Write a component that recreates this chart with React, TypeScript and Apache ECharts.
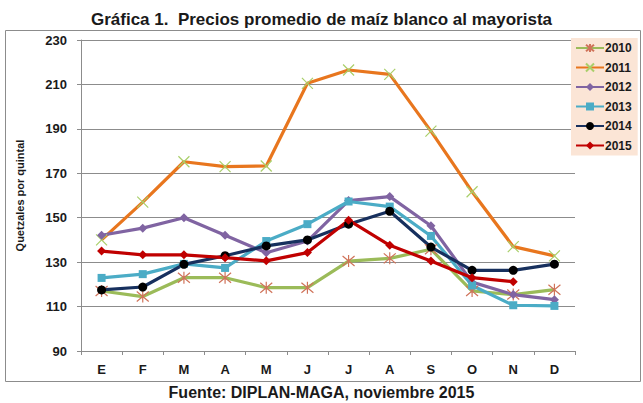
import React, { useEffect, useRef } from 'react';
import * as echarts from 'echarts';

const months = ['E', 'F', 'M', 'A', 'M', 'J', 'J', 'A', 'S', 'O', 'N', 'D'];

const precios2010 = [117, 114.5, 123, 123, 118.5, 118.5, 130.5, 131.7, 135.8, 117, 115.4, 117.6];
const precios2011 = [140, 157, 175.2, 173, 173.3, 210.5, 216.5, 214.5, 189, 161.7, 137, 132.8];
const precios2012 = [142.1, 145.3, 150, 142.1, 134.2, 139.5, 157.7, 159.5, 146.4, 121, 115.4, 113.1];
const precios2013 = [122.9, 124.6, 129.2, 127.4, 139.5, 147.1, 157.3, 155, 141.8, 119.5, 110.6, 110.3];
const precios2014 = [117.5, 118.8, 129, 132.9, 137.3, 140, 147.1, 152.9, 136.8, 126.3, 126.3, 129.1];
const precios2015 = [135, 133.3, 133.3, 132, 130.6, 134.3, 148.9, 137.6, 130.5, 123, 121.2, null];

const FONT = '"Liberation Sans", Arial, sans-serif';

const ASTERISK = 'path://M0,0L10,10M10,0L0,10M5,-1L5,11';
const CROSS = 'path://M0,0L10,10M10,0L0,10';

const App: React.FC = () => {
  const chartRef = useRef<HTMLDivElement>(null);

  useEffect(() => {
    if (!chartRef.current) return;
    const chart = echarts.init(chartRef.current, undefined, { renderer: 'svg' });

    const line = (
      name: string,
      data: (number | null)[],
      color: string,
      symbol: string,
      symbolSize: number,
      markerColor: string,
      strokeMarker = false
    ) => ({
      name,
      type: 'line',
      data,
      symbol,
      symbolSize,
      showSymbol: true,
      lineStyle: { color, width: 3.2 },
      itemStyle: strokeMarker
        ? { color: 'transparent', borderColor: markerColor, borderWidth: 1.2 }
        : { color: markerColor },
      color,
    });

    const option: echarts.EChartsOption = {
      animation: false,
      backgroundColor: '#ffffff',
      title: {
        text: 'Gráfica 1.  Precios promedio de maíz blanco al mayorista',
        left: 'center',
        top: 6,
        textStyle: { fontFamily: FONT, fontSize: 17, fontWeight: 'bold', color: '#1a1a1a' },
      },
      graphic: [
        {
          type: 'rect',
          shape: { x: 5.5, y: 30.5, width: 635, height: 351 },
          style: { fill: 'none', stroke: '#8c8c8c', lineWidth: 1 },
          silent: true,
        },
        {
          type: 'text',
          left: 'center',
          top: 384,
          style: {
            text: 'Fuente: DIPLAN-MAGA, noviembre 2015',
            font: `bold 16px ${FONT}`,
            fill: '#1a1a1a',
          },
        },
      ],
      legend: {
        orient: 'vertical',
        left: 571,
        top: 38,
        backgroundColor: '#fbe5d6',
        padding: [4, 6, 4, 4],
        itemWidth: 28,
        itemHeight: 10,
        itemGap: 7.5,
        textStyle: { fontFamily: FONT, fontSize: 12, fontWeight: 'bold', color: '#1a1a1a', padding: [0, 0, 0, -4] },
        data: ['2010', '2011', '2012', '2013', '2014', '2015'],
      },
      grid: { left: 81, right: 68, top: 40, bottom: 52 },
      xAxis: {
        type: 'category',
        data: months,
        boundaryGap: true,
        axisLine: { lineStyle: { color: '#8c8c8c' } },
        axisTick: { show: true, length: 4, lineStyle: { color: '#8c8c8c' } },
        axisLabel: { fontFamily: FONT, fontSize: 13, fontWeight: 'bold', color: '#1a1a1a', margin: 12 },
      },
      yAxis: {
        type: 'value',
        min: 90,
        max: 230,
        interval: 20,
        name: 'Quetzales por quintal',
        nameLocation: 'middle',
        nameRotate: 90,
        nameGap: 56,
        nameTextStyle: { fontFamily: FONT, fontSize: 11, fontWeight: 'bold', color: '#1a1a1a' },
        axisLine: { show: true, lineStyle: { color: '#8c8c8c' } },
        axisTick: { show: true, length: 4, lineStyle: { color: '#8c8c8c' } },
        axisLabel: { fontFamily: FONT, fontSize: 13, fontWeight: 'bold', color: '#1a1a1a', margin: 14 },
        splitLine: { lineStyle: { color: '#8c8c8c' } },
      },
      series: [
        line('2010', precios2010, '#9bbb59', ASTERISK, 12, '#d0735a', true),
        line('2011', precios2011, '#e8761e', CROSS, 11, '#a9cf6a', true),
        line('2012', precios2012, '#8064a2', 'diamond', 9, '#8064a2'),
        line('2013', precios2013, '#4bacc6', 'rect', 8, '#4bacc6'),
        line('2014', precios2014, '#17305e', 'circle', 9, '#000000'),
        line('2015', precios2015, '#c00000', 'diamond', 9, '#c00000'),
      ] as any,
    };

    chart.setOption(option);

    return () => {
      chart.dispose();
    };
  }, []);

  return (
    <div
      ref={chartRef}
      style={{ position: 'absolute', left: 0, top: 0, width: '643px', height: '403px' }}
    />
  );
};

export default App;
